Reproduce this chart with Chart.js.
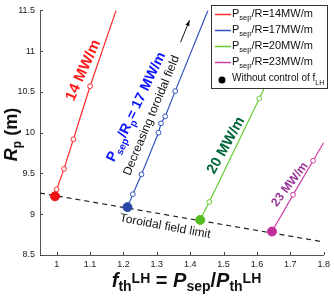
<!DOCTYPE html>
<html><head><meta charset="utf-8">
<style>html,body{margin:0;padding:0;background:#fff;}#wrap{width:334px;height:299px;position:relative;}</style>
<script src="https://cdn.jsdelivr.net/npm/chart.js@4"></script>
</head><body><div id="wrap"><canvas id="c" width="334" height="299"></canvas></div>
<script>
// ---- data ----
const xTicks = [1.0, 1.1, 1.2, 1.3, 1.4, 1.5, 1.6, 1.7, 1.8];
const yTicks = [8.5, 9, 9.5, 10, 10.5, 11, 11.5];
const seriesNames = ['14', '17', '20', '23'];
const red14X = [0.995, 1.0, 1.022, 1.05, 1.10, 1.178];
const red14Y = [9.22, 9.305, 9.556, 9.92, 10.57, 11.5];
const blue17X = [1.212, 1.228, 1.254, 1.305, 1.3125, 1.325, 1.355, 1.453];
const blue17Y = [9.087, 9.245, 9.489, 10.0, 10.114, 10.2, 10.51, 11.5];
const green20X = [1.43, 1.457, 1.607, 1.732];
const green20Y = [8.93, 9.15, 10.42, 11.5];
const mag23X = [1.645, 1.708, 1.768, 1.8];
const mag23Y = [8.788, 9.238, 9.656, 9.88];
const limitX = [0.95, 1.8];
const limitY = [9.26, 8.66];

const FAM = '"Liberation Sans", Arial, Helvetica, sans-serif';
const lineColors = ['#ff2a2a', '#3352c0', '#66cc33', '#cc3fa6'];
const dotColors = ['#ee1111', '#2a48a8', '#55bb22', '#c0309a'];

function pts(xs, ys) { return xs.map((v, i) => ({x: v, y: ys[i]})); }
function series(xs, ys, k) {
  const n = xs.length;
  return {
    data: pts(xs, ys), showLine: true, borderColor: lineColors[k], borderWidth: 1.2,
    pointRadius: c => c.dataIndex === 0 ? 4.5 : (c.dataIndex === n - 1 ? 0 : 2.4),
    pointBackgroundColor: c => c.dataIndex === 0 ? dotColors[k] : '#fff',
    pointBorderColor: c => c.dataIndex === 0 ? dotColors[k] : lineColors[k],
    pointBorderWidth: 1
  };
}

function fnt(s) { return (s.style || '') + ' ' + (s.weight || 'bold') + ' ' + s.size + 'px ' + FAM; }
function richW(ctx, segs) { let w = 0; segs.forEach(s => { ctx.font = fnt(s); w += ctx.measureText(s.t).width; }); return w; }
function drawRich(ctx, segs, x, y, color) {
  let cx = x;
  segs.forEach(s => { ctx.font = fnt(s); ctx.fillStyle = s.color || color; ctx.fillText(s.t, cx, y + (s.dy || 0)); cx += ctx.measureText(s.t).width; });
  return cx;
}
function rotLabel(ctx, px, py, deg, segs, color, size) {
  ctx.save(); ctx.translate(px, py); ctx.rotate(deg * Math.PI / 180);
  ctx.textBaseline = 'alphabetic'; ctx.textAlign = 'left';
  const w = richW(ctx, segs);
  drawRich(ctx, segs, -w / 2, size * 0.36, color);
  ctx.restore();
}

const deco = {
  id: 'deco',
  afterDraw(chart) {
    const {ctx, chartArea: a} = chart;
    const X = chart.scales.x, Y = chart.scales.y;
    const px = v => X.getPixelForValue(v), py = v => Y.getPixelForValue(v);
    ctx.save();
    // inward ticks
    ctx.strokeStyle = '#444'; ctx.lineWidth = 1;
    xTicks.forEach(v => { const p = Math.round(px(v)) + 0.5; ctx.beginPath(); ctx.moveTo(p, a.bottom); ctx.lineTo(p, a.bottom - 3); ctx.stroke(); });
    yTicks.forEach(v => { const p = Math.round(py(v)) + 0.5; ctx.beginPath(); ctx.moveTo(a.left, p); ctx.lineTo(a.left + 3, p); ctx.stroke(); });

    // rotated annotations
    rotLabel(ctx, px(1.0763), py(10.771), -65.6, [{t: '14 MW/m', size: 15}], '#ff1a1a', 15);
    rotLabel(ctx, px(1.2353), py(10.323), -64.4, [
      {t: 'P', size: 14}, {t: 'sep', size: 10, dy: 4}, {t: '/R', size: 14}, {t: 'p', size: 10, dy: 4}, {t: '= 17 MW/m', size: 14}
    ], '#0a14ff', 14);
    rotLabel(ctx, px(1.2814), py(10.215), -67.4, [{t: 'Decreasing toroidal field', size: 12, weight: 'normal'}], '#111', 12);
    rotLabel(ctx, px(1.5043), py(9.851), -61, [{t: '20 MW/m', size: 14.5}], '#00663a', 14.5);
    rotLabel(ctx, px(1.6960), py(9.373), -53, [{t: '23 MW/m', size: 12}], '#993399', 12);
    rotLabel(ctx, px(1.3254), py(8.862), 10.5, [{t: 'Toroidal field limit', size: 12, weight: 'normal'}], '#111', 12);

    // arrow
    const ax0 = px(1.3711), ay0 = py(11.109), ax1 = px(1.3979), ay1 = py(11.380);
    ctx.strokeStyle = '#111'; ctx.fillStyle = '#111'; ctx.lineWidth = 1;
    ctx.beginPath(); ctx.moveTo(ax0, ay0); ctx.lineTo(ax1, ay1); ctx.stroke();
    const ang = Math.atan2(ay1 - ay0, ax1 - ax0);
    ctx.beginPath(); ctx.moveTo(ax1, ay1);
    ctx.lineTo(ax1 - 6 * Math.cos(ang - 0.35), ay1 - 6 * Math.sin(ang - 0.35));
    ctx.lineTo(ax1 - 6 * Math.cos(ang + 0.35), ay1 - 6 * Math.sin(ang + 0.35));
    ctx.closePath(); ctx.fill();

    // legend
    ctx.fillStyle = '#fff'; ctx.fillRect(211.5, 5.5, 116, 83);
    ctx.strokeStyle = '#333'; ctx.lineWidth = 1; ctx.strokeRect(211.5, 5.5, 116, 83);
    ctx.textBaseline = 'alphabetic'; ctx.textAlign = 'left';
    seriesNames.forEach((nm, i) => {
      const ly = 14 + 16 * i;
      ctx.strokeStyle = lineColors[i]; ctx.lineWidth = 1.5;
      ctx.beginPath(); ctx.moveTo(215, ly + 0.5); ctx.lineTo(231, ly + 0.5); ctx.stroke();
      drawRich(ctx, [
        {t: 'P', size: 11, weight: 'normal'}, {t: 'sep', size: 7.5, weight: 'normal', dy: 3}, {t: '/R=' + nm + 'MW/m', size: 11, weight: 'normal'}
      ], 232, ly + 2.5, '#111');
    });
    ctx.fillStyle = '#000'; ctx.beginPath(); ctx.arc(222, 80, 3.5, 0, Math.PI * 2); ctx.fill();
    drawRich(ctx, [{t: 'Without control of f', size: 10, weight: 'normal'}, {t: 'LH', size: 7, weight: 'normal', dy: 4}], 232, 80.5, '#111');

    // y-axis title
    ctx.save(); ctx.translate(17, 134.5); ctx.rotate(-Math.PI / 2);
    const ys = [{t: 'R', size: 18, style: 'italic'}, {t: 'p', size: 12, dy: 4}, {t: ' (m)', size: 18}];
    drawRich(ctx, ys, -richW(ctx, ys) / 2, 0, '#111');
    ctx.restore();

    // x-axis title
    const xs = [
      {t: 'f', size: 20, style: 'italic'}, {t: 'th', size: 14, dy: 4}, {t: 'LH', size: 14, dy: -4},
      {t: ' = ', size: 20}, {t: 'P', size: 20, style: 'italic'}, {t: 'sep', size: 14, dy: 4},
      {t: '/', size: 20}, {t: 'P', size: 20, style: 'italic'}, {t: 'th', size: 14, dy: 4}, {t: 'LH', size: 14, dy: -4}
    ];
    drawRich(ctx, xs, 186.5 - richW(ctx, xs) / 2, 287, '#111');
    ctx.restore();
  }
};

new Chart(document.getElementById('c'), {
  type: 'scatter',
  data: {
    datasets: [
      series(red14X, red14Y, 0),
      series(blue17X, blue17Y, 1),
      series(green20X, green20Y, 2),
      series(mag23X, mag23Y, 3),
      {data: pts(limitX, limitY), showLine: true, borderColor: '#222', borderWidth: 1.2, borderDash: [5, 4], pointRadius: 0}
    ]
  },
  options: {
    responsive: false, animation: false, devicePixelRatio: 1, events: [],
    layout: {padding: {top: 4, right: 8, left: 0, bottom: 0}},
    plugins: {legend: {display: false}, tooltip: {enabled: false}},
    scales: {
      x: {
        type: 'linear', min: 0.95, max: 1.8,
        afterBuildTicks: s => { s.ticks = xTicks.map(v => ({value: v})); },
        afterFit: s => { s.height = 44; },
        grid: {display: false, drawTicks: false},
        border: {display: true, color: '#555', width: 1},
        ticks: {padding: 4, maxRotation: 0, autoSkip: false, color: '#222', font: {family: FAM, size: 9},
          callback: v => String(Math.round(v * 10) / 10)}
      },
      y: {
        type: 'linear', min: 8.5, max: 11.5,
        afterBuildTicks: s => { s.ticks = yTicks.map(v => ({value: v})); },
        afterFit: s => { s.width = 40; },
        grid: {display: false, drawTicks: false},
        border: {display: true, color: '#555', width: 1},
        ticks: {padding: 5, autoSkip: false, color: '#222', font: {family: FAM, size: 9},
          callback: v => String(v)}
      }
    }
  },
  plugins: [deco]
});
</script>
</body></html>
